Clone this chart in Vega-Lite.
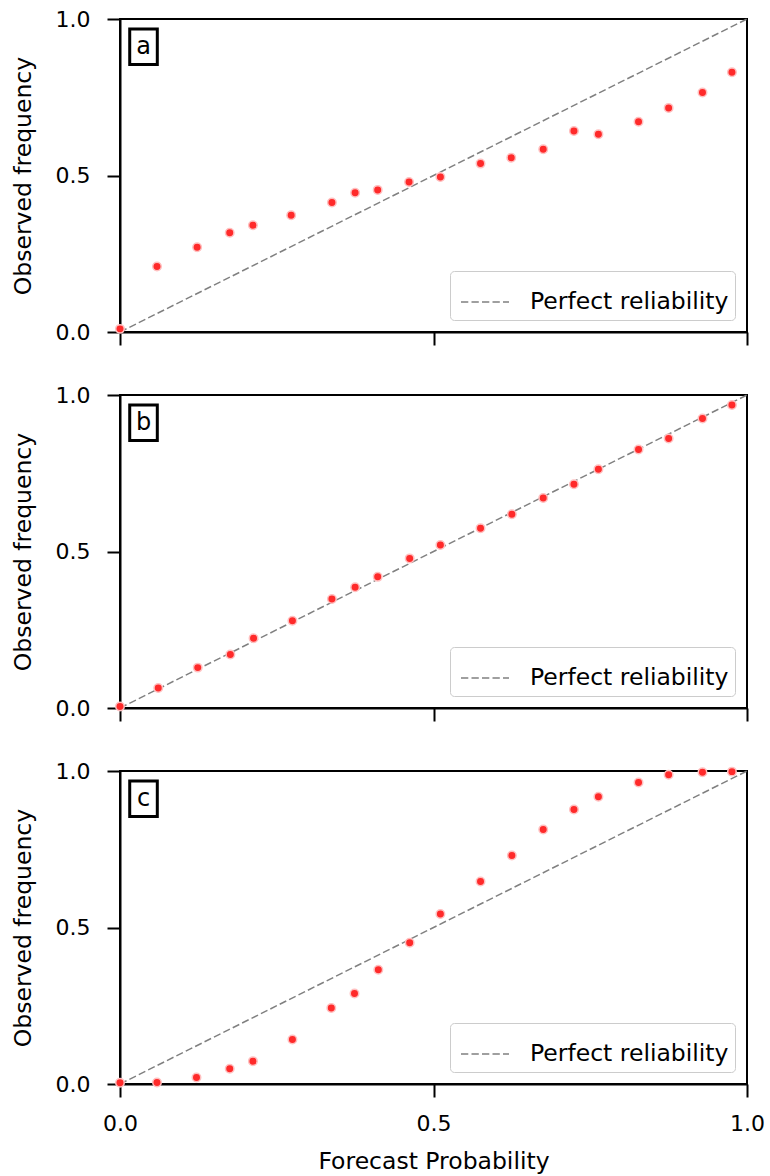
{
  "$schema": "https://vega.github.io/schema/vega-lite/v6.json",
  "padding": {"left": 10, "top": 7, "right": 10, "bottom": 2},
  "background": "white",
  "config": {
    "font": "DejaVu Sans",
    "view": {"stroke": "black", "strokeWidth": 2},
    "axis": {
      "grid": false,
      "domainColor": "black", "domainWidth": 2,
      "tickColor": "black", "tickWidth": 2, "tickSize": 13,
      "labelColor": "black", "labelFontSize": 22, "labelFont": "DejaVu Sans",
      "labelFlush": false, "labelPadding": 4,
      "titleColor": "black", "titleFontSize": 23.5, "titleFontWeight": "normal", "titleFont": "DejaVu Sans"
    },
    "legend": {
      "title": null, "orient": "bottom-right", "offset": 12,
      "symbolType": "stroke", "symbolDash": [7.3, 3.2], "symbolStrokeWidth": 1.5, "symbolSize": 2304,
      "symbolOffset": 4,
      "labelFontSize": 23.5, "labelColor": "black", "labelOffset": 20, "labelLimit": 400,
      "strokeColor": "#cccccc", "fillColor": "white", "cornerRadius": 4, "padding": 6
    },
    "concat": {"spacing": 63}
  },
  "datasets": {
    "pts": [
      {"panel": "a", "fp": 0.0, "of": 0.01},
      {"panel": "a", "fp": 0.059, "of": 0.209},
      {"panel": "a", "fp": 0.123, "of": 0.271},
      {"panel": "a", "fp": 0.175, "of": 0.317},
      {"panel": "a", "fp": 0.212, "of": 0.341},
      {"panel": "a", "fp": 0.273, "of": 0.373},
      {"panel": "a", "fp": 0.338, "of": 0.414},
      {"panel": "a", "fp": 0.375, "of": 0.445},
      {"panel": "a", "fp": 0.411, "of": 0.454},
      {"panel": "a", "fp": 0.461, "of": 0.479},
      {"panel": "a", "fp": 0.511, "of": 0.495},
      {"panel": "a", "fp": 0.575, "of": 0.538},
      {"panel": "a", "fp": 0.624, "of": 0.557},
      {"panel": "a", "fp": 0.675, "of": 0.584},
      {"panel": "a", "fp": 0.724, "of": 0.642},
      {"panel": "a", "fp": 0.763, "of": 0.632},
      {"panel": "a", "fp": 0.827, "of": 0.672},
      {"panel": "a", "fp": 0.875, "of": 0.716},
      {"panel": "a", "fp": 0.929, "of": 0.765},
      {"panel": "a", "fp": 0.976, "of": 0.830},
      {"panel": "b", "fp": 0.0, "of": 0.005},
      {"panel": "b", "fp": 0.061, "of": 0.064},
      {"panel": "b", "fp": 0.124, "of": 0.129},
      {"panel": "b", "fp": 0.176, "of": 0.171},
      {"panel": "b", "fp": 0.213, "of": 0.223},
      {"panel": "b", "fp": 0.275, "of": 0.279},
      {"panel": "b", "fp": 0.338, "of": 0.348},
      {"panel": "b", "fp": 0.375, "of": 0.386},
      {"panel": "b", "fp": 0.411, "of": 0.419},
      {"panel": "b", "fp": 0.462, "of": 0.478},
      {"panel": "b", "fp": 0.511, "of": 0.521},
      {"panel": "b", "fp": 0.575, "of": 0.574},
      {"panel": "b", "fp": 0.625, "of": 0.619},
      {"panel": "b", "fp": 0.675, "of": 0.671},
      {"panel": "b", "fp": 0.724, "of": 0.715},
      {"panel": "b", "fp": 0.763, "of": 0.763},
      {"panel": "b", "fp": 0.827, "of": 0.826},
      {"panel": "b", "fp": 0.875, "of": 0.861},
      {"panel": "b", "fp": 0.929, "of": 0.925},
      {"panel": "b", "fp": 0.976, "of": 0.968},
      {"panel": "c", "fp": 0.0, "of": 0.004},
      {"panel": "c", "fp": 0.059, "of": 0.005},
      {"panel": "c", "fp": 0.122, "of": 0.021},
      {"panel": "c", "fp": 0.175, "of": 0.049},
      {"panel": "c", "fp": 0.212, "of": 0.073},
      {"panel": "c", "fp": 0.275, "of": 0.142},
      {"panel": "c", "fp": 0.337, "of": 0.243},
      {"panel": "c", "fp": 0.374, "of": 0.289},
      {"panel": "c", "fp": 0.412, "of": 0.365},
      {"panel": "c", "fp": 0.462, "of": 0.451},
      {"panel": "c", "fp": 0.511, "of": 0.543},
      {"panel": "c", "fp": 0.575, "of": 0.647},
      {"panel": "c", "fp": 0.625, "of": 0.730},
      {"panel": "c", "fp": 0.675, "of": 0.813},
      {"panel": "c", "fp": 0.724, "of": 0.877},
      {"panel": "c", "fp": 0.763, "of": 0.918},
      {"panel": "c", "fp": 0.827, "of": 0.963},
      {"panel": "c", "fp": 0.875, "of": 0.988},
      {"panel": "c", "fp": 0.929, "of": 0.996},
      {"panel": "c", "fp": 0.976, "of": 0.998}
    ],
    "diag": [
      {"fp": 0, "of": 0, "series": "Perfect reliability"},
      {"fp": 1, "of": 1, "series": "Perfect reliability"}
    ],
    "one": [{}]
  },
  "vconcat": [
    {
      "width": 627, "height": 313,
      "layer": [
        {
          "data": {"name": "diag"},
          "mark": {"type": "line", "strokeDash": [7.3, 3.2], "strokeWidth": 1.5},
          "encoding": {
            "x": {"field": "fp", "type": "quantitative", "scale": {"domain": [0, 1], "nice": false}, "axis": {"values": [0, 0.5, 1], "labels": false, "title": null}},
            "y": {"field": "of", "type": "quantitative", "scale": {"domain": [0, 1], "nice": false}, "axis": {"values": [0, 0.5, 1], "format": ".1f", "title": "Observed frequency", "labelPadding": 17, "titlePadding": 20}},
            "color": {"field": "series", "type": "nominal", "scale": {"range": ["#808080"]}}
          }
        },
        {
          "data": {"name": "pts"},
          "transform": [{"filter": "datum.panel === 'a'"}],
          "mark": {"type": "point", "filled": true, "fill": "#ff2a2a", "stroke": "#ffc0c0", "strokeWidth": 1.5, "size": 72, "opacity": 1},
          "encoding": {
            "x": {"field": "fp", "type": "quantitative"},
            "y": {"field": "of", "type": "quantitative"}
          }
        },
        {
          "data": {"name": "one"},
          "mark": {"type": "rect", "fill": "white", "stroke": "black", "strokeWidth": 3},
          "encoding": {"x": {"datum": 0.0155}, "x2": {"datum": 0.0595}, "y": {"datum": 0.968}, "y2": {"datum": 0.855}}
        },
        {
          "data": {"name": "one"},
          "mark": {"type": "text", "fontSize": 24, "baseline": "middle", "align": "center", "color": "black"},
          "encoding": {"x": {"datum": 0.0375}, "y": {"datum": 0.912}, "text": {"value": "a"}}
        }
      ]
    },
    {
      "width": 627, "height": 313,
      "layer": [
        {
          "data": {"name": "diag"},
          "mark": {"type": "line", "strokeDash": [7.3, 3.2], "strokeWidth": 1.5},
          "encoding": {
            "x": {"field": "fp", "type": "quantitative", "scale": {"domain": [0, 1], "nice": false}, "axis": {"values": [0, 0.5, 1], "labels": false, "title": null}},
            "y": {"field": "of", "type": "quantitative", "scale": {"domain": [0, 1], "nice": false}, "axis": {"values": [0, 0.5, 1], "format": ".1f", "title": "Observed frequency", "labelPadding": 17, "titlePadding": 20}},
            "color": {"field": "series", "type": "nominal", "scale": {"range": ["#808080"]}}
          }
        },
        {
          "data": {"name": "pts"},
          "transform": [{"filter": "datum.panel === 'b'"}],
          "mark": {"type": "point", "filled": true, "fill": "#ff2a2a", "stroke": "#ffc0c0", "strokeWidth": 1.5, "size": 72, "opacity": 1},
          "encoding": {
            "x": {"field": "fp", "type": "quantitative"},
            "y": {"field": "of", "type": "quantitative"}
          }
        },
        {
          "data": {"name": "one"},
          "mark": {"type": "rect", "fill": "white", "stroke": "black", "strokeWidth": 3},
          "encoding": {"x": {"datum": 0.0155}, "x2": {"datum": 0.0595}, "y": {"datum": 0.968}, "y2": {"datum": 0.855}}
        },
        {
          "data": {"name": "one"},
          "mark": {"type": "text", "fontSize": 24, "baseline": "middle", "align": "center", "color": "black"},
          "encoding": {"x": {"datum": 0.0375}, "y": {"datum": 0.912}, "text": {"value": "b"}}
        }
      ]
    },
    {
      "width": 627, "height": 313,
      "layer": [
        {
          "data": {"name": "diag"},
          "mark": {"type": "line", "strokeDash": [7.3, 3.2], "strokeWidth": 1.5},
          "encoding": {
            "x": {"field": "fp", "type": "quantitative", "scale": {"domain": [0, 1], "nice": false}, "axis": {"values": [0, 0.5, 1], "format": ".1f", "title": "Forecast Probability", "labelPadding": 16, "titlePadding": 15}},
            "y": {"field": "of", "type": "quantitative", "scale": {"domain": [0, 1], "nice": false}, "axis": {"values": [0, 0.5, 1], "format": ".1f", "title": "Observed frequency", "labelPadding": 17, "titlePadding": 20}},
            "color": {"field": "series", "type": "nominal", "scale": {"range": ["#808080"]}}
          }
        },
        {
          "data": {"name": "pts"},
          "transform": [{"filter": "datum.panel === 'c'"}],
          "mark": {"type": "point", "filled": true, "fill": "#ff2a2a", "stroke": "#ffc0c0", "strokeWidth": 1.5, "size": 72, "opacity": 1},
          "encoding": {
            "x": {"field": "fp", "type": "quantitative"},
            "y": {"field": "of", "type": "quantitative"}
          }
        },
        {
          "data": {"name": "one"},
          "mark": {"type": "rect", "fill": "white", "stroke": "black", "strokeWidth": 3},
          "encoding": {"x": {"datum": 0.0155}, "x2": {"datum": 0.0595}, "y": {"datum": 0.968}, "y2": {"datum": 0.855}}
        },
        {
          "data": {"name": "one"},
          "mark": {"type": "text", "fontSize": 24, "baseline": "middle", "align": "center", "color": "black"},
          "encoding": {"x": {"datum": 0.0375}, "y": {"datum": 0.912}, "text": {"value": "c"}}
        }
      ]
    }
  ],
  "resolve": {"scale": {"color": "independent"}, "legend": {"color": "independent"}},
  "bounds": "flush"
}
